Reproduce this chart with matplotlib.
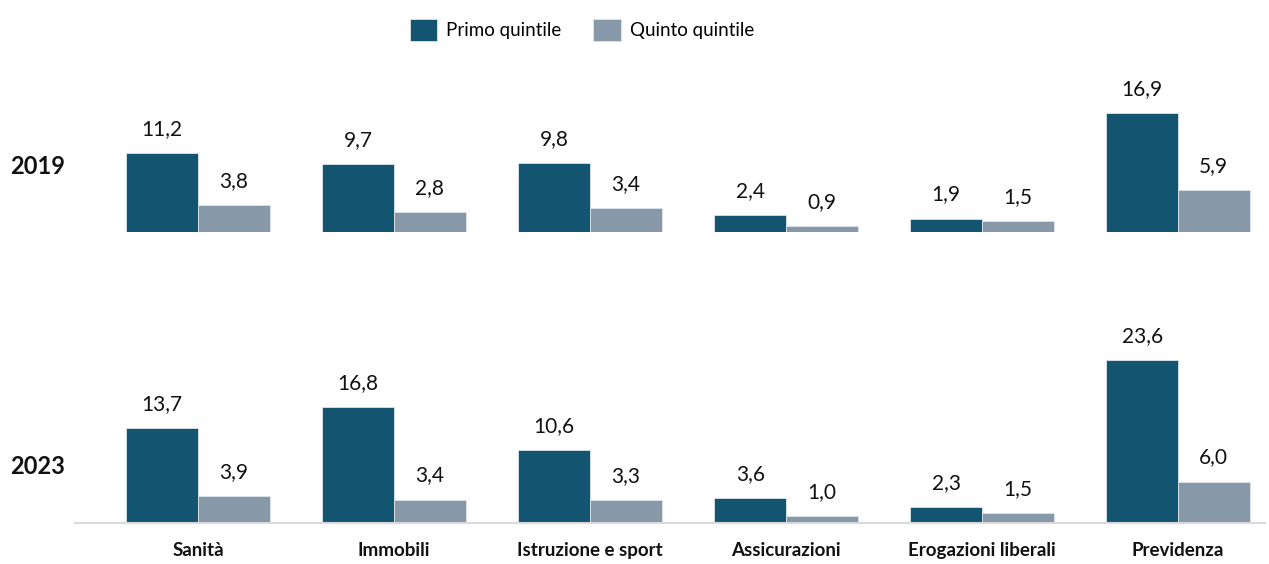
import matplotlib
matplotlib.use("Agg")
import matplotlib.pyplot as plt
from matplotlib.patches import Patch
import numpy as np

plt.rcParams['font.family'] = ['Lato', 'DejaVu Sans']

categories = ["Sanità", "Immobili", "Istruzione e sport", "Assicurazioni",
              "Erogazioni liberali", "Previdenza"]
years = ["2019", "2023"]
primo_2019 = [11.2, 9.7, 9.8, 2.4, 1.9, 16.9]
quinto_2019 = [3.8, 2.8, 3.4, 0.9, 1.5, 5.9]
primo_2023 = [13.7, 16.8, 10.6, 3.6, 2.3, 23.6]
quinto_2023 = [3.9, 3.4, 3.3, 1.0, 1.5, 6.0]
series_names = ["Primo quintile", "Quinto quintile"]

dark = "#135470"
light = "#8798a8"

W, H = 1269, 564
fig = plt.figure(figsize=(W / 100, H / 100), dpi=100)

def fx(px):
    return px / W

def fy(px):
    return 1 - px / H

x = np.arange(len(categories))
bw = 0.365
xlim = ((75 - 198) / 196, (1265 - 198) / 196)

rows = [
    (years[0], primo_2019, quinto_2019, 232, 60, 7.04, False),
    (years[1], primo_2023, quinto_2023, 523, 340, 6.9, True),
]

for year, p, q, base_px, top_px, scale, baseline in rows:
    ax = fig.add_axes([fx(75), fy(base_px), fx(1265 - 75), (base_px - top_px) / H])
    ax.set_xlim(*xlim)
    ax.set_ylim(0, (base_px - top_px) / scale)
    b1 = ax.bar(x - bw / 2, p, bw, color=dark, edgecolor="#dde4ea", linewidth=0.6)
    b2 = ax.bar(x + bw / 2, q, bw, color=light, edgecolor="#dde4ea", linewidth=0.6)
    for bars, vals in ((b1, p), (b2, q)):
        for r, v in zip(bars, vals):
            ax.annotate(f"{v:.1f}".replace(".", ","),
                        (r.get_x() + r.get_width() / 2, r.get_height()),
                        xytext=(0, 13), textcoords="offset points",
                        ha="center", va="baseline", fontsize=15, color="#111111")
    for s in ax.spines.values():
        s.set_visible(False)
    if baseline:
        ax.spines['bottom'].set_visible(True)
        ax.spines['bottom'].set_color("#d9d9d9")
        ax.spines['bottom'].set_linewidth(1.5)
        ax.set_xticks(x)
        ax.set_xticklabels(categories, fontsize=13.5, fontweight="bold", color="#111111")
        ax.tick_params(axis="x", length=0, pad=14)
    else:
        ax.set_xticks([])
    ax.set_yticks([])
    fig.text(fx(38), fy(base_px - 65 if not baseline else base_px - 57), year,
             ha="center", va="center", fontsize=17, fontweight="bold", color="#111111")

handles = [Patch(facecolor=dark, edgecolor="#dde4ea", linewidth=0.6),
           Patch(facecolor=light, edgecolor="#dde4ea", linewidth=0.6)]
fig.legend(handles, series_names, loc="upper center", bbox_to_anchor=(fx(582), fy(2)),
           ncol=2, frameon=False, fontsize=13.5, handlelength=1.45, handleheight=1.4,
           columnspacing=1.7, handletextpad=0.5)

fig.savefig("out.png", dpi=100)
